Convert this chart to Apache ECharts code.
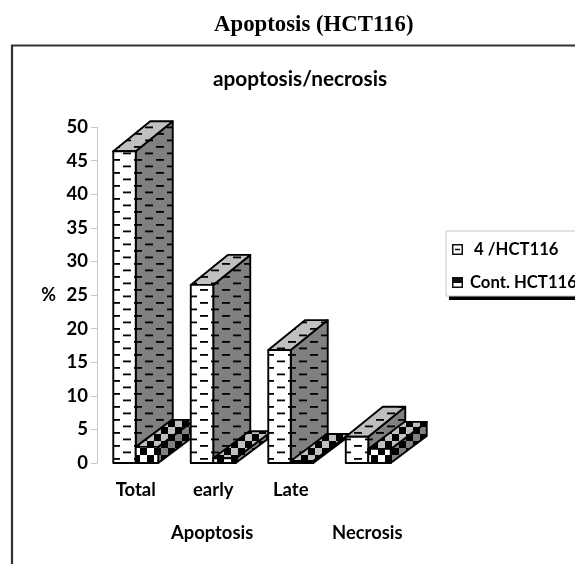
<!DOCTYPE html>
<html><head><meta charset="utf-8">
<style>html,body{margin:0;padding:0;background:#fff}#c{width:575px;height:564px}</style>
<script src="https://cdn.jsdelivr.net/npm/echarts@6/dist/echarts.min.js"></script>
</head><body><div id="c"></div>
<script>
const categories = ['Total', 'early', 'Late', ''];
const treated = [46.4, 26.5, 16.8, 3.9];
const control = [2.4, 0.7, 0.3, 2.1];
const seriesNames = ['4 /HCT116', 'Cont. HCT116'];
const groupLabels = ['Apoptosis', 'Necrosis'];
const UI = '"Lato","Open Sans",sans-serif';

function tile(w, h, bg, paint) {
  const c = document.createElement('canvas'); c.width = w; c.height = h;
  const g = c.getContext('2d'); g.fillStyle = bg; g.fillRect(0, 0, w, h);
  g.fillStyle = '#000'; paint(g); return { image: c, repeat: 'repeat' };
}
const dash = bg => tile(22, 13, bg, g => { g.fillRect(2, 3, 8, 1.8); g.fillRect(13, 9.5, 8, 1.8); });
const check = bg => tile(14, 14, bg, g => { g.fillRect(0, 0, 7, 7); g.fillRect(7, 7, 7, 7); });
const dashFaces = [dash('#fff'), dash('#c0c0c0'), dash('#808080')];
const checkFaces = [check('#fff'), check('#c0c0c0'), check('#808080')];

function bar3d(faces, side, dx, dy) {
  return function (params, api) {
    const cat = api.value(0), base = api.coord([cat, 0]), top = api.coord([cat, api.value(1)]);
    const w = api.size([1, 0])[0] * 0.29;
    const x0 = side === 0 ? base[0] - w : base[0], x1 = x0 + w, y0 = base[1], y1 = top[1];
    const z2 = cat * 10 + side;
    const poly = (pts, fill) => ({
      type: 'polygon', z2, shape: { points: pts },
      style: { fill, stroke: '#000', lineWidth: 1.9, lineJoin: 'round' }
    });
    return { type: 'group', children: [
      poly([[x1, y0], [x1 + dx, y0 + dy], [x1 + dx, y1 + dy], [x1, y1]], faces[2]),
      poly([[x0, y1], [x0 + dx, y1 + dy], [x1 + dx, y1 + dy], [x1, y1]], faces[1]),
      poly([[x0, y0], [x1, y0], [x1, y1], [x0, y1]], faces[0])
    ] };
  };
}
const iconDash = 'path://M0 0H11V11H0ZM1.5 1.5V9.5H9.5V1.5ZM3 4.8H8V6.2H3Z';
const iconCheck = 'path://M0 0H11V11H0ZM1.5 6V9.5H9.5V6Z';

const chart = echarts.init(document.getElementById('c'), null, { renderer: 'canvas' });
chart.setOption({
  animation: false,
  backgroundColor: '#fff',
  title: [
    { text: 'Apoptosis (HCT116)', left: 209, top: 9,
      textStyle: { fontFamily: '"Liberation Serif",serif', fontWeight: 'bold', fontSize: 22.8, color: '#000' } },
    { text: 'apoptosis/necrosis', left: 208, top: 64,
      textStyle: { fontFamily: UI, fontWeight: 'bold', fontSize: 20.8, color: '#000' } }
  ],
  grid: { left: 97, top: 127, width: 310, height: 336, containLabel: false },
  xAxis: {
    type: 'category', data: categories,
    axisLine: { show: false }, axisTick: { show: false },
    axisLabel: { margin: 18, interval: 0, fontFamily: UI, fontWeight: 'bold', fontSize: 18.5, color: '#000' }
  },
  yAxis: {
    type: 'value', min: 0, max: 50, interval: 5,
    name: '%', nameLocation: 'middle', nameRotate: 0, nameGap: 41,
    nameTextStyle: { fontFamily: UI, fontWeight: 'bold', fontSize: 18, color: '#000' },
    splitLine: { show: false },
    axisLine: { show: true, lineStyle: { color: '#c8c8c8', width: 1 } },
    axisTick: { show: true, length: 6, lineStyle: { color: '#c8c8c8' } },
    axisLabel: { margin: 9, fontFamily: UI, fontWeight: 'bold', fontSize: 18.5, color: '#000' }
  },
  legend: {
    orient: 'vertical', left: 446, top: 231, padding: [10, 12, 5, 6], itemGap: 16,
    itemWidth: 11, itemHeight: 11, backgroundColor: '#fff',
    borderColor: '#c8c8c8', borderWidth: 1,
    textStyle: { fontFamily: UI, fontWeight: 'bold', fontSize: 16.7, color: '#000', padding: [0, 0, 0, 2] },
    formatter: n => n === seriesNames[0] ? ' ' + n : n,
    data: [
      { name: seriesNames[0], icon: iconDash, itemStyle: { color: '#111' } },
      { name: seriesNames[1], icon: iconCheck, itemStyle: { color: '#111' } }
    ]
  },
  series: [
    { type: 'custom', name: seriesNames[0], clip: false, renderItem: bar3d(dashFaces, 0, 37, -30),
      itemStyle: { color: '#111' }, encode: { x: 0, y: 1 },
      data: treated.map((v, i) => [i, v]) },
    { type: 'custom', name: seriesNames[1], clip: false, renderItem: bar3d(checkFaces, 1, 36, -27),
      itemStyle: { color: '#111' }, encode: { x: 0, y: 1 },
      data: control.map((v, i) => [i, v]) }
  ],
  graphic: [
    { type: 'polyline', silent: true, shape: { points: [[12, 564], [12, 45.5], [575, 45.5]] },
      style: { fill: 'none', stroke: '#333', lineWidth: 2.2 } },
    { type: 'rect', silent: true, shape: { x: 449, y: 296, width: 126, height: 4 }, style: { fill: '#000' } },
    { type: 'text', left: 171, top: 524, style: { text: groupLabels[0], fontFamily: UI, fontWeight: 'bold', fontSize: 18.4, fill: '#000' } },
    { type: 'text', left: 332, top: 524, style: { text: groupLabels[1], fontFamily: UI, fontWeight: 'bold', fontSize: 18.4, fill: '#000' } }
  ]
});
</script></body></html>
